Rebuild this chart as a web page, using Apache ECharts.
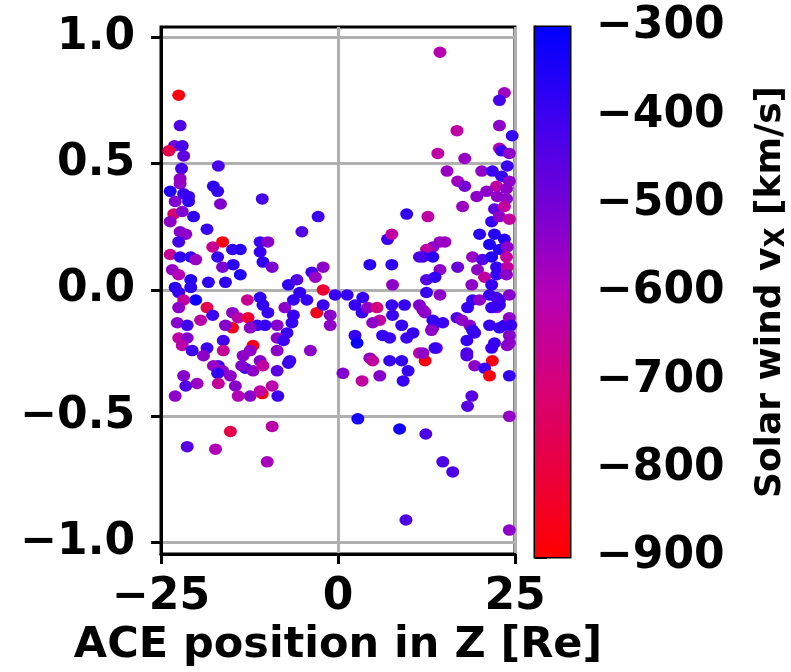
<!DOCTYPE html>
<html><head><meta charset="utf-8">
<script src="https://cdn.jsdelivr.net/npm/echarts@6/dist/echarts.min.js"></script>
<style>html,body{margin:0;padding:0;background:#fff}#c{width:791px;height:672px}</style>
</head><body><div id="c"></div><script>
// ACE position in Z [Re]
const posZ = [
-22.5,-22.3,-23.1,-22.0,-23.9,-21.8,-22.1,-16.9,-22.3,-22.3,
-23.7,-21.8,-17.6,-17.0,-10.7,-21.1,-23.0,-21.1,-16.6,-23.2,
-23.7,-22.0,-20.4,-18.5,-22.3,-21.5,-22.5,-16.3,-17.7,-14.9,
-13.8,-23.7,-22.3,-20.8,-20.1,-17.0,-16.3,-14.8,-13.8,-23.4,
-22.5,-20.8,-18.3,-15.9,-23.0,-20.8,-11.0,-9.9,-11.0,-10.6,
-9.3,-5.1,-2.8,-3.7,-2.1,-3.2,-7.0,-5.8,-2.1,-5.4,
-0.4,
-22.5,-20.1,-21.8,-18.5,-22.5,-17.7,-19.4,-22.7,-21.3,-14.9,
-12.8,-14.1,-12.7,-14.9,-15.9,-22.5,-21.3,-22.0,-20.6,-18.5,
-16.2,-16.2,-19.0,-16.9,-17.6,-16.3,-15.2,-14.5,-14.1,-21.8,
-21.5,-19.9,-23.0,-13.1,-12.4,-13.4,-12.0,-12.4,-11.0,-17.0,
-16.9,-10.7,-11.0,-9.3,-8.5,-8.6,-7.0,-12.0,-10.6,-13.6,
-15.2,-9.3,-21.3,-17.3,-10.0,
-10.6,-9.9,-11.0,-7.5,-6.3,-4.4,-3.0,-2.1,-1.1,-6.3,
-6.5,-11.4,-10.3,-8.6,-7.2,-12.4,-8.6,-7.7,-8.6,-6.8,
-3.9,-1.1,
0.7,3.4,5.9,9.9,9.2,7.3,9.0,12.3,11.5,4.5,
4.9,1.3,3.5,2.4,3.4,4.2,5.5,5.9,4.9,7.6,
7.7,9.4,11.5,12.3,9.0,10.6,9.7,7.3,6.3,2.4,
2.7,13.4,14.8,13.4,16.8,18.6,19.3,21.4,23.5,24.2,
22.1,24.2,13.9,18.2,18.2,21.8,
19.0,20.0,21.4,22.8,18.3,22.4,24.2,12.5,14.4,12.0,
21.7,22.8,22.4,24.2,13.7,17.5,13.2,19.0,22.8,24.4,
21.7,23.9,13.7,12.0,18.2,19.3,20.7,21.4,24.2,18.9,
18.3,24.2,2.8,8.7,12.4,14.8,16.2,9.6,24.2,
14.4,23.5,22.8,16.8,22.8,24.6,14.1,17.9,22.8,23.1,
24.2,23.9,15.4,20.3,21.8,23.1,24.2,16.9,17.9,22.4,
23.8,21.0,19.6,22.5,23.8,17.6,12.7,22.1,23.5,21.7,
22.8,24.2,20.0,22.1,23.5,21.4,22.8,23.9,14.4,13.4,
12.5,12.0,13.4,19.0,20.4,21.7,23.8,14.4,16.9,19.7,
22.4,23.9,12.5,13.7,20.7,22.4,23.8,18.9,21.7,9.7,
7.0,7.6,4.5,7.6,11.5,15.1,7.7
];
// vertical quantity
const yVal = [
0.77,0.65,0.57,0.57,0.55,0.53,0.48,0.49,0.44,0.42,
0.39,0.38,0.41,0.39,0.36,0.37,0.35,0.35,0.34,0.30,
0.27,0.31,0.29,0.24,0.23,0.22,0.19,0.19,0.17,0.16,
0.16,0.14,0.13,0.13,0.12,0.13,0.09,0.10,0.06,0.08,
0.06,0.04,0.03,0.03,0.01,0.01,0.19,0.19,0.15,0.11,
0.09,0.23,0.29,0.07,0.09,0.05,0.02,0.04,0.00,-0.01,
-0.02,
-0.01,-0.04,-0.04,-0.07,-0.07,-0.10,-0.12,-0.13,-0.14,-0.09,
-0.04,-0.11,-0.11,-0.15,-0.14,-0.19,-0.19,-0.22,-0.24,-0.23,
-0.20,-0.24,-0.26,-0.30,-0.30,-0.32,-0.34,-0.38,-0.42,-0.34,
-0.38,-0.37,-0.42,-0.31,-0.42,-0.26,-0.22,-0.24,-0.28,-0.33,
-0.37,-0.41,-0.40,-0.38,-0.42,-0.32,-0.29,-0.32,-0.30,-0.30,
-0.56,-0.54,-0.62,-0.63,-0.68,
-0.06,-0.09,-0.03,-0.07,-0.04,-0.04,-0.09,-0.06,-0.10,-0.10,
-0.13,-0.14,-0.14,-0.14,-0.17,-0.15,-0.19,-0.20,-0.24,-0.28,
-0.24,-0.14,
-0.33,-0.36,-0.34,-0.32,-0.36,-0.28,-0.28,-0.28,-0.25,-0.27,
-0.28,-0.02,-0.03,-0.06,-0.09,-0.07,-0.07,-0.12,-0.13,-0.06,
-0.10,-0.06,-0.06,-0.09,-0.14,-0.17,-0.19,-0.19,-0.18,-0.18,
-0.21,-0.15,-0.13,-0.12,-0.11,-0.14,-0.17,-0.14,-0.14,-0.18,
-0.21,-0.21,-0.23,-0.20,-0.25,-0.28,
-0.04,-0.04,-0.02,-0.04,-0.07,-0.07,-0.11,-0.01,-0.02,-0.08,
-0.07,-0.06,-0.03,-0.02,-0.13,-0.12,-0.16,-0.16,-0.15,-0.14,
-0.23,-0.22,-0.23,-0.25,-0.26,-0.30,-0.31,-0.34,-0.34,-0.42,
-0.46,-0.50,-0.51,-0.55,-0.57,-0.68,-0.72,-0.91,-0.95,
0.94,0.78,0.75,0.63,0.65,0.61,0.54,0.52,0.56,0.55,
0.54,0.49,0.47,0.47,0.47,0.45,0.43,0.43,0.41,0.41,
0.40,0.39,0.37,0.37,0.36,0.33,0.29,0.32,0.33,0.27,
0.29,0.28,0.22,0.22,0.20,0.18,0.16,0.17,0.19,0.17,
0.16,0.13,0.13,0.13,0.12,0.13,0.13,0.08,0.09,0.08,
0.09,0.09,0.04,0.05,0.05,0.06,0.06,0.02,0.02,0.30,
0.20,0.22,0.10,0.10,0.13,0.19,0.02
];
// Solar wind vx [km/s]
const vx = [
-880,-440,-490,-420,-780,-460,-420,-420,-540,-550,
-360,-390,-370,-390,-420,-400,-520,-380,-520,-720,
-540,-520,-380,-390,-530,-540,-410,-880,-660,-380,
-370,-660,-380,-380,-560,-390,-510,-370,-350,-550,
-600,-360,-380,-380,-370,-380,-400,-530,-390,-380,
-510,-440,-400,-410,-540,-560,-380,-440,-820,-380,
-390,
-390,-320,-640,-780,-540,-400,-620,-530,-410,-540,
-660,-620,-820,-860,-530,-630,-520,-620,-400,-400,
-410,-650,-540,-400,-560,-540,-540,-530,-600,-530,
-440,-560,-540,-400,-530,-540,-860,-540,-520,-380,
-650,-880,-630,-620,-400,-450,-390,-540,-640,-520,
-780,-620,-450,-600,-580,
-380,-390,-380,-540,-390,-390,-860,-400,-530,-390,
-390,-390,-390,-530,-400,-540,-540,-400,-540,-400,
-540,-540,
-520,-640,-530,-390,-390,-390,-390,-880,-630,-540,
-640,-390,-390,-390,-400,-540,-700,-640,-540,-390,
-400,-390,-520,-540,-390,-390,-400,-400,-390,-390,
-320,-540,-400,-390,-440,-540,-400,-390,-390,-530,
-390,-540,-540,-390,-420,-880,
-390,-540,-390,-390,-390,-540,-540,-390,-540,-540,
-390,-390,-420,-530,-390,-540,-540,-390,-390,-390,
-390,-540,-390,-540,-440,-540,-390,-880,-390,-450,
-450,-550,-340,-330,-430,-430,-430,-430,-540,
-610,-570,-420,-630,-540,-390,-630,-560,-610,-400,
-540,-400,-560,-550,-400,-390,-540,-570,-500,-640,
-540,-540,-540,-540,-540,-560,-630,-460,-640,-390,
-540,-640,-370,-360,-360,-350,-360,-540,-560,-540,
-630,-400,-370,-560,-440,-360,-640,-540,-480,-540,
-380,-640,-440,-380,-640,-390,-540,-540,-390,-380,
-400,-640,-370,-380,-430,-560,-540
];
const yTicks = [-1.0, -0.5, 0.0, 0.5, 1.0];
const xTicks = [-25, 0, 25];
const cbTicks = [-900, -800, -700, -600, -500, -400, -300];

const FONT = 'DejaVu Sans';
const cmap = ['#ff0000', '#ea0040', '#d4007c', '#b400b6', '#7400d6', '#3c00f0', '#0000ff']; // -900 .. -300
const minus = s => s.replace('-', '\u2212');

const n = Math.min(posZ.length, yVal.length, vx.length);
const pts = [];
for (let i = 0; i < n; i++) pts.push([posZ[i], yVal[i], vx[i]]);

const chart = echarts.init(document.getElementById('c'), null, {renderer: 'canvas'});
const labelStyle = {color: '#000', fontFamily: FONT, fontSize: 44, fontWeight: 'bold'};
chart.setOption({
  animation: false,
  backgroundColor: '#fff',
  grid: [
    {left: 161, top: 27, width: 354, height: 530, show: true, borderColor: '#000', borderWidth: 3, backgroundColor: 'transparent'},
    {left: 535, top: 27, width: 35, height: 530, show: true, borderColor: '#000', borderWidth: 3, backgroundColor: 'transparent'}
  ],
  xAxis: [
    {gridIndex: 0, type: 'value', min: -25, max: 25, interval: 25,
     name: 'ACE position in Z [Re]', nameLocation: 'middle', nameGap: 67,
     nameTextStyle: Object.assign({}, labelStyle, {fontSize: 43}),
     axisLine: {show: true, onZero: false, lineStyle: {color: '#000', width: 3}},
     axisTick: {show: true, length: 10, lineStyle: {color: '#000', width: 3}, customValues: xTicks},
     axisLabel: Object.assign({margin: 21, formatter: v => minus(String(v)), customValues: xTicks}, labelStyle),
     splitLine: {show: true, lineStyle: {color: '#b0b0b0', width: 3}}},
    {gridIndex: 1, type: 'value', min: 0, max: 1, show: false}
  ],
  yAxis: [
    {gridIndex: 0, type: 'value', min: -1.045, max: 1.04,
     axisLine: {show: true, onZero: false, lineStyle: {color: '#000', width: 3}},
     axisTick: {show: true, length: 10, lineStyle: {color: '#000', width: 3}, customValues: yTicks},
     axisLabel: Object.assign({margin: 26, formatter: v => minus(v.toFixed(1)), customValues: yTicks}, labelStyle),
     splitLine: {show: true, lineStyle: {color: '#b0b0b0', width: 3}}},
    {gridIndex: 1, type: 'value', min: -900, max: -300, interval: 100, position: 'right',
     name: 'Solar wind v{s|X} [km/s]', nameLocation: 'middle', nameRotate: 90, nameGap: 182,
     nameTextStyle: Object.assign({}, labelStyle, {fontSize: 36, rich: {s: {fontFamily: FONT, fontSize: 26, fontWeight: 'bold', color: '#000', padding: [12, 0, 0, 0]}}}),
     axisLine: {show: true, lineStyle: {color: '#000', width: 3}},
     axisTick: {show: true, length: 12, lineStyle: {color: '#000', width: 3}},
     axisLabel: Object.assign({margin: 26, formatter: v => minus(String(v))}, labelStyle),
     splitLine: {show: false}}
  ],
  visualMap: {type: 'continuous', show: false, seriesIndex: 0, dimension: 2, min: -900, max: -300, inRange: {color: cmap}},
  series: [
    {type: 'scatter', xAxisIndex: 0, yAxisIndex: 0, data: pts, symbolSize: [13, 11.5], clip: true, itemStyle: {opacity: 1}},
    {type: 'custom', xAxisIndex: 1, yAxisIndex: 1, silent: true, clip: true,
     data: [[0, cbTicks[cbTicks.length - 1], 1, cbTicks[0]]],
     encode: {x: [0, 2], y: [1, 3]},
     renderItem: (params, api) => {
       const p1 = api.coord([api.value(0), api.value(1)]);
       const p2 = api.coord([api.value(2), api.value(3)]);
       const stops = cmap.slice().reverse().map((c, i, a) => ({offset: i / (a.length - 1), color: c}));
       return {type: 'rect', shape: {x: p1[0], y: p1[1], width: p2[0] - p1[0], height: p2[1] - p1[1]},
               style: {fill: new echarts.graphic.LinearGradient(0, 0, 0, 1, stops)}};
     }}
  ]
});
</script></body></html>
